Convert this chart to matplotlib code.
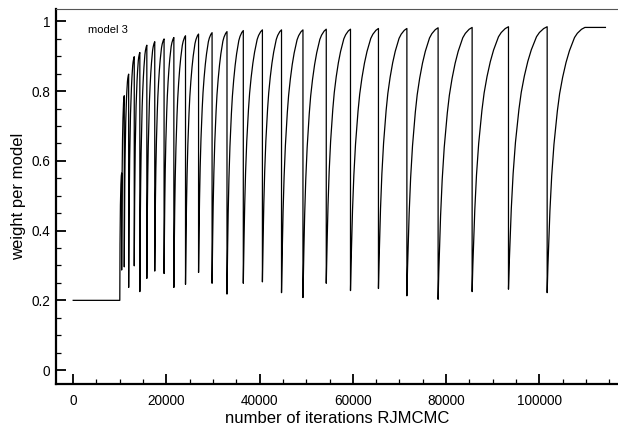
import numpy as np
import matplotlib
matplotlib.use("Agg")
import matplotlib.pyplot as plt
from matplotlib.ticker import MultipleLocator, FixedLocator, FuncFormatter

plt.rcParams['font.family'] = ['Liberation Sans', 'DejaVu Sans']

# ---- data ----
burnin_end = 10000
initial_weight = 0.2
cycle_starts = [10000, 10400, 10960, 11900, 13100, 14300, 15800, 17500, 19500,
                21600, 24100, 26900, 29800, 33000, 36500, 40600, 44700, 49300,
                54300, 59500, 65500, 71600, 78300, 85600, 93400, 101700]
cycle_troughs = [0.200, 0.287, 0.296, 0.237, 0.299, 0.225, 0.263, 0.284, 0.277,
                 0.237, 0.246, 0.280, 0.249, 0.218, 0.249, 0.253, 0.222, 0.208,
                 0.249, 0.228, 0.234, 0.213, 0.203, 0.225, 0.232, 0.222]
cycle_peaks = [0.565, 0.787, 0.849, 0.899, 0.911, 0.932, 0.942, 0.950, 0.954,
               0.959, 0.964, 0.968, 0.971, 0.974, 0.976, 0.976, 0.976, 0.978,
               0.978, 0.980, 0.980, 0.982, 0.983, 0.985, 0.985, 0.983]
final_rise_end = 109800
run_end = 114200
final_plateau = 0.983
rise_frac_t = [0.0, 0.02, 0.04, 0.073, 0.12, 0.18, 0.27, 0.33, 0.41, 0.50, 0.59, 0.725, 0.80, 0.91, 1.0]
rise_frac_v = [0.0, 0.10, 0.18, 0.308, 0.44, 0.559, 0.685, 0.75, 0.812, 0.868, 0.912, 0.962, 0.978, 0.993, 1.0]

x_ticks = [0, 20000, 40000, 60000, 80000, 100000]
y_ticks = [0, 0.2, 0.4, 0.6, 0.8, 1.0]

# ---- build series ----
xs = [0, burnin_end]
ys = [initial_weight, initial_weight]
t = np.array(rise_frac_t)
f = np.array(rise_frac_v)
n = len(cycle_starts)
for i in range(n):
    s = cycle_starts[i]
    e = cycle_starts[i + 1] if i + 1 < n else final_rise_end
    xs.extend(list(s + t * (e - s)))
    ys.extend(list(cycle_troughs[i] + f * (cycle_peaks[i] - cycle_troughs[i])))
xs.append(run_end)
ys.append(final_plateau)

fig = plt.figure(figsize=(6.18, 4.30), dpi=100)
ax = fig.add_axes([56 / 618, 46 / 430, 1 - 56 / 618, (384 - 9.3) / 430])
ax.plot(xs, ys, color='black', lw=0.9)

ax.set_xlim(-3690, 116900)
ax.set_ylim(-0.040, 1.035)
ax.xaxis.set_major_locator(FixedLocator(x_ticks))
ax.xaxis.set_minor_locator(MultipleLocator(5000))
ax.yaxis.set_major_locator(FixedLocator(y_ticks))
ax.yaxis.set_minor_locator(MultipleLocator(0.05))
ax.yaxis.set_major_formatter(FuncFormatter(lambda v, p: '%g' % round(v, 2)))
ax.xaxis.set_major_formatter(FuncFormatter(lambda v, p: '%d' % v))

ax.tick_params(which='both', direction='in', top=False, right=False, labelsize=9.8, colors='black')
ax.tick_params(which='major', length=7, width=1.3)
ax.tick_params(which='minor', length=3.5, width=0.9)
ax.tick_params(axis='x', pad=7.5)
ax.tick_params(axis='y', pad=4)

for side in ['left', 'bottom']:
    ax.spines[side].set_linewidth(1.6)
ax.spines['top'].set_linewidth(0.8)
ax.spines['top'].set_color('#555555')
ax.spines['right'].set_visible(False)

ax.set_xlabel('number of iterations RJMCMC', fontsize=12, labelpad=2)
ax.set_ylabel('weight per model', fontsize=12, labelpad=4)
ax.text(3200, 0.976, 'model 3', fontsize=8, va='center', ha='left')

fig.savefig('out.png', dpi=100)
